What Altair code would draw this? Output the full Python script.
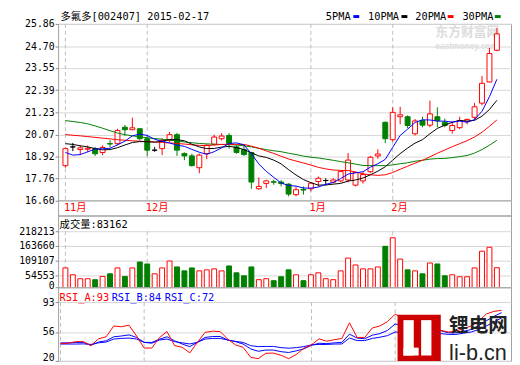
import altair as alt
import pandas as pd

# ---------------- data ----------------
title_text = "多氟多[002407] 2015-02-17"
month_start = [0, 11, 33, 44]
month_label = ["11月", "12月", "1月", "2月"]

open_p = [18.44, 19.42, 19.28, 19.30, 19.33, 19.13, 19.60, 19.59, 20.45, 20.32,
          20.37, 19.85, 19.25, 19.33, 19.76, 20.06, 19.08, 18.95, 18.33, 19.07,
          19.56, 19.85, 20.02, 19.42, 19.28, 19.13, 17.23, 17.51, 17.60, 17.58,
          17.47, 16.92, 17.20, 17.23, 17.61, 17.66, 17.57, 17.64, 17.69, 17.42,
          17.64, 18.12, 18.95, 20.71, 19.80, 21.00, 21.00, 20.11, 20.80, 20.56,
          21.00, 20.71, 20.28, 20.43, 20.76, 20.97, 21.71, 22.82, 24.48]
high_p = [19.40, 19.63, 19.51, 19.50, 19.42, 19.50, 19.77, 20.37, 20.57, 20.95,
          20.40, 20.02, 19.42, 19.88, 20.20, 20.16, 19.13, 19.07, 19.07, 19.55,
          20.06, 20.14, 20.14, 19.50, 19.50, 19.16, 17.82, 17.70, 17.70, 17.68,
          17.52, 17.35, 17.35, 17.57, 17.87, 17.78, 17.78, 18.16, 19.10, 18.12,
          18.10, 18.95, 19.30, 20.75, 21.49, 21.52, 21.07, 20.88, 21.00, 21.84,
          21.49, 20.90, 20.75, 21.00, 20.90, 21.72, 23.13, 24.60, 25.64]
low_p = [18.33, 19.20, 18.99, 19.15, 18.95, 18.99, 19.40, 19.50, 20.00, 20.30,
         19.76, 18.95, 19.16, 18.99, 19.68, 18.95, 18.73, 18.39, 18.04, 18.78,
         19.50, 19.76, 19.33, 19.06, 18.95, 17.23, 17.18, 17.27, 17.44, 17.35,
         16.83, 16.83, 16.92, 17.09, 17.35, 17.40, 17.52, 17.57, 17.57, 17.35,
         17.50, 18.05, 18.80, 19.62, 19.70, 20.60, 20.40, 20.02, 20.45, 20.45,
         20.45, 20.45, 20.12, 20.35, 20.60, 20.85, 21.60, 22.80, 24.43]
close_p = [19.33, 19.42, 19.37, 19.35, 19.06, 19.39, 19.57, 20.28, 20.32, 20.42,
           19.85, 19.25, 19.25, 19.76, 20.06, 19.25, 18.95, 18.44, 18.99, 19.51,
           19.94, 19.99, 19.59, 19.13, 19.02, 17.58, 17.35, 17.64, 17.57, 17.50,
           16.95, 17.18, 17.16, 17.52, 17.78, 17.66, 17.69, 18.13, 18.73, 18.08,
           17.97, 18.88, 19.05, 19.85, 21.23, 21.10, 20.54, 20.78, 20.56, 21.15,
           20.80, 20.55, 20.54, 20.80, 20.86, 21.52, 22.75, 24.31, 25.34]

ma5 = [19.13, 18.99, 19.02, 19.16, 19.31, 19.32, 19.35, 19.53, 19.72, 20.00,
       20.09, 20.02, 19.82, 19.71, 19.63, 19.51, 19.45, 19.29, 19.14, 19.03,
       19.17, 19.37, 19.60, 19.63, 19.53, 19.06, 18.53, 18.14, 17.83, 17.53,
       17.40, 17.37, 17.27, 17.26, 17.32, 17.46, 17.56, 17.76, 18.00, 18.06,
       18.12, 18.36, 18.54, 18.77, 19.40, 20.02, 20.35, 20.70, 20.84, 20.83,
       20.77, 20.77, 20.72, 20.77, 20.71, 20.85, 21.29, 22.05, 22.96]
ma10 = [19.59, 19.55, 19.48, 19.42, 19.33, 19.27, 19.28, 19.38, 19.52, 19.65,
        19.70, 19.69, 19.67, 19.71, 19.81, 19.80, 19.74, 19.56, 19.42, 19.33,
        19.34, 19.41, 19.45, 19.39, 19.28, 19.11, 18.95, 18.87, 18.73, 18.53,
        18.23, 17.95, 17.71, 17.55, 17.42, 17.43, 17.47, 17.51, 17.63, 17.69,
        17.79, 17.96, 18.15, 18.38, 18.73, 19.07, 19.36, 19.62, 19.80, 20.11,
        20.39, 20.56, 20.71, 20.81, 20.77, 20.81, 21.03, 21.38, 21.86]
ma20 = [20.07, 20.03, 20.00, 19.96, 19.92, 19.88, 19.84, 19.80, 19.77, 19.74,
        19.72, 19.70, 19.68, 19.66, 19.63, 19.60, 19.57, 19.53, 19.50, 19.49,
        19.52, 19.55, 19.56, 19.55, 19.55, 19.46, 19.35, 19.21, 19.08, 18.93,
        18.79, 18.68, 18.58, 18.47, 18.35, 18.27, 18.21, 18.19, 18.18, 18.11,
        18.01, 17.96, 17.93, 17.96, 18.08, 18.25, 18.41, 18.57, 18.72, 18.90,
        19.09, 19.26, 19.43, 19.59, 19.75, 19.94, 20.19, 20.50, 20.83]
ma30 = [20.80, 20.75, 20.70, 20.63, 20.52, 20.40, 20.27, 20.15, 20.06, 20.00,
        19.95, 19.90, 19.86, 19.82, 19.78, 19.73, 19.68, 19.64, 19.60, 19.58,
        19.56, 19.55, 19.54, 19.52, 19.48, 19.42, 19.35, 19.28, 19.22, 19.17,
        19.09, 19.02, 18.94, 18.88, 18.84, 18.78, 18.72, 18.65, 18.59, 18.52,
        18.45, 18.44, 18.44, 18.44, 18.48, 18.54, 18.59, 18.67, 18.72, 18.78,
        18.81, 18.82, 18.86, 18.91, 18.97, 19.10, 19.28, 19.51, 19.77]

volume = [82400, 57000, 42400, 42400, 38800, 50900, 60600, 82400, 50900, 82400,
          104300, 97000, 60600, 82400, 107900, 86100, 71500, 82400, 71500, 75200,
          78800, 71500, 89700, 64300, 53300, 86100, 38800, 42400, 35200, 49700,
          75200, 57000, 35200, 57000, 64300, 42400, 38800, 71500, 118800, 93300,
          78800, 78800, 86100, 162400, 194000, 115200, 75200, 71500, 60600, 100600,
          97000, 53300, 57000, 49700, 49700, 82400, 144300, 158800, 83162]

rsi_a = [41.5, 42, 44, 44, 39, 47.5, 50, 63.5, 62.5, 64.5,
         51, 36, 36, 49, 56.5, 39, 37, 30, 43, 55.5,
         57, 56.5, 47, 40, 37, 24.5, 22.8, 29.5, 29.7, 27,
         22.8, 28, 35.8, 40, 47.5, 44.5, 46.4, 48, 67.4, 49.2,
         49.2, 61, 63.5, 69, 78, 74, 61, 64, 59, 66,
         58, 56, 57, 60.5, 63.4, 69.5, 78.4, 81.6, 83]
rsi_b = [42.5, 42.5, 43, 43, 39.5, 43.5, 45, 50, 51, 52.4,
         49.2, 43.1, 43, 47, 50, 45, 41, 37.8, 43.1, 49.2,
         50.4, 50.4, 46, 44, 41, 35, 32, 33.5, 33.5, 31.5,
         30.5, 32.5, 35, 39.5, 42, 41.5, 42.5, 43.1, 53.3, 48.4,
         47.6, 52, 54, 58, 66, 64, 58, 60, 57, 62,
         57.5, 55, 55, 57, 59, 64, 70, 75.5, 80]
rsi_c = [41, 41, 41, 41.2, 40.5, 42.5, 43.5, 47.2, 48, 48.4,
         47.2, 43.1, 42, 46, 47.2, 44, 42.5, 41.1, 43.1, 47.2,
         48, 48, 46, 44.3, 43, 39, 37.8, 38, 38, 36.5,
         35.8, 36.5, 37.8, 40, 40.5, 40.5, 41, 41.1, 48.5, 45.3,
         45.3, 48, 49.5, 51.5, 56, 55.5, 53, 54, 53, 56,
         54, 53, 53, 54.5, 56, 59, 63.5, 68.5, 73.5]

price_ticks = [16.60, 17.76, 18.92, 20.07, 21.23, 22.39, 23.55, 24.70, 25.86]
vol_ticks = [54553, 109107, 163660, 218213]
rsi_ticks = [20, 56, 93]
rsi_names = ["RSI_A", "RSI_B", "RSI_C"]
rsi_last = [93, 84, 72]
vol_last = 83162
legend_names = ["5PMA", "10PMA", "20PMA", "30PMA"]

# ---------------- styling ----------------
FONT = "DejaVu Sans Mono, Noto Sans CJK SC"
RED, GREEN, BLUE, BLACK = "#FF0000", "#008000", "#0000FF", "#000000"
GRID, FRAME, DASH = "#D6D6D6", "#A0A0A0", "#BDBDBD"
W, H_C, H_V, H_R = 461, 195, 73, 75

n = len(close_p)
idx = list(range(n))
kind = ["up" if c > o else ("down" if c < o else "flat") for o, c in zip(open_p, close_p)]
vkind = ["down" if c < o else "up" for o, c in zip(open_p, close_p)]

df = pd.DataFrame({
    "i": idx, "o": open_p, "h": high_p, "l": low_p, "c": close_p, "k": kind,
    "vol": volume, "vk": vkind, "ma5": ma5, "ma10": ma10, "ma20": ma20, "ma30": ma30,
    "ra": rsi_a, "rb": rsi_b, "rc": rsi_c,
})

XS = alt.Scale(domain=[-0.32, 59.24], nice=False, zero=False)
X = alt.X("i:Q", scale=XS, axis=None)
K_STROKE = alt.Scale(domain=["up", "down", "flat"], range=[RED, GREEN, BLACK])
K_FILL = alt.Scale(domain=["up", "down", "flat"], range=["#FFFFFF", GREEN, BLACK])


def yaxis(values, **kw):
    return alt.Axis(values=values, title=None, grid=True, gridColor=GRID, gridWidth=1,
                    domain=False, ticks=True, tickSize=3, tickColor="#888888",
                    labelFont=FONT, labelFontSize=10, labelColor=BLACK, labelPadding=1,
                    labelOverlap=False, **kw)


def text_layer(txt, x, y, color=BLACK, size=10.5, font=FONT, weight="normal", align="left",
               baseline="middle"):
    return alt.Chart(pd.DataFrame({"t": [txt]})).mark_text(
        align=align, baseline=baseline, font=font, fontSize=size, fontWeight=weight, color=color
    ).encode(x=alt.value(x), y=alt.value(y), text="t:N")


def rect_layer(x, x2, y, y2, color):
    return alt.Chart(pd.DataFrame({"a": [0]})).mark_rect(color=color).encode(
        x=alt.value(x), x2=alt.value(x2), y=alt.value(y), y2=alt.value(y2))


# ---------------- candle panel ----------------
C_TOP, C_BOT = 25.86, 16.60
C_LO = C_BOT - 15 * (C_TOP - C_BOT) / 180
YC = alt.Scale(domain=[C_LO, C_TOP], nice=False, zero=False)
AXC = yaxis(price_ticks, format=".2f", labelFlush=False)


def yc(f):
    return alt.Y(f, scale=YC, axis=AXC)


base = alt.Chart(df)
c_layers = [
    text_layer("东方财富网", 384, 8.5, color="#DCDCDC", size=13, font="Noto Sans CJK SC", weight="bold"),
    text_layer("eastmoney.com", 384, 22.5, color="#DCDCDC", size=8.5, font="Liberation Sans", weight="bold"),
    alt.Chart(pd.DataFrame({"i": month_start, "top": [C_TOP] * 4, "bot": [C_BOT] * 4}))
    .mark_rule(color=DASH, strokeDash=[4, 3]).encode(x=X, y=yc("top:Q"), y2="bot:Q"),
    alt.Chart(pd.DataFrame({"v": [C_BOT]})).mark_rule(color=FRAME).encode(y=yc("v:Q")),
    base.mark_rule(strokeWidth=1).encode(
        x=X, y=yc("l:Q"), y2="h:Q", color=alt.Color("k:N", scale=K_STROKE, legend=None)),
    base.mark_bar(size=5, strokeWidth=1).encode(
        x=X, y=yc("o:Q"), y2="c:Q",
        fill=alt.Fill("k:N", scale=K_FILL, legend=None),
        stroke=alt.Stroke("k:N", scale=K_STROKE, legend=None)),
]
for col, colr in [("ma30", GREEN), ("ma20", RED), ("ma10", BLACK), ("ma5", BLUE)]:
    c_layers.append(base.mark_line(color=colr, strokeWidth=1).encode(x=X, y=yc(f"{col}:Q")))

c_layers.append(text_layer(title_text, 2.5, -6.7))
leg_colors = [BLUE, BLACK, RED, GREEN]
leg_tx = [272.5, 315.5, 363.5, 411.5]
leg_dx = [300.5, 349.5, 396.5, 444.5]
for name, colr, tx, dx in zip(legend_names, leg_colors, leg_tx, leg_dx):
    c_layers.append(text_layer(name, tx, -6.7))
    c_layers.append(rect_layer(dx, dx + 6, -9, -6, colr))
c_layers.append(
    alt.Chart(pd.DataFrame({"i": month_start, "t": month_label})).mark_text(
        align="left", baseline="middle", dx=-1.5, font=FONT, fontSize=10.5, color=RED
    ).encode(x=X, y=alt.value(187.5), text="t:N")
)
candle = alt.layer(*c_layers).properties(width=W, height=H_C)

# ---------------- volume panel ----------------
V_STEP = vol_ticks[-1] / 4 / 15
V_HI = vol_ticks[-1] + 16 * V_STEP
V_LO = vol_ticks[-1] - 57 * V_STEP
YV = alt.Scale(domain=[V_LO, V_HI], nice=False, zero=False)
AXV = yaxis([V_LO] + vol_ticks, labelExpr="datum.value < 20000 ? '0' : format(datum.value, 'd')",
            labelFlush=True, labelFlushOffset=3)
v_layers = [
    alt.Chart(pd.DataFrame({"i": month_start, "top": [vol_ticks[-1]] * 4, "bot": [V_LO] * 4}))
    .mark_rule(color=DASH, strokeDash=[4, 3])
    .encode(x=X, y=alt.Y("top:Q", scale=YV, axis=AXV), y2="bot:Q"),
    base.mark_bar(size=5, strokeWidth=1, clip=True).encode(
        x=X, y=alt.Y("vol:Q", scale=YV, axis=AXV), y2=alt.datum(0),
        fill=alt.Fill("vk:N", scale=K_FILL, legend=None),
        stroke=alt.Stroke("vk:N", scale=K_STROKE, legend=None)),
    text_layer("成交量:" + str(vol_last), 1.5, 10),
]
vol = alt.layer(*v_layers).properties(width=W, height=H_V)

# ---------------- RSI panel ----------------
R_LO = 20
R_HI = 93 + 15.3 * 73 / 59.7
YR = alt.Scale(domain=[R_LO, R_HI], nice=False, zero=False)
AXR = yaxis(rsi_ticks, format="d", labelFlush=True, labelFlushOffset=2)
r_layers = [
    alt.Chart(pd.DataFrame({"i": month_start, "top": [93] * 4, "bot": [20] * 4}))
    .mark_rule(color=DASH, strokeDash=[4, 3])
    .encode(x=X, y=alt.Y("top:Q", scale=YR, axis=AXR), y2="bot:Q"),
]
for col, colr in [("rc", BLUE), ("rb", BLUE), ("ra", RED)]:
    r_layers.append(base.mark_line(color=colr, strokeWidth=1).encode(
        x=X, y=alt.Y(f"{col}:Q", scale=YR, axis=AXR)))
for nm, val, colr, tx in zip(rsi_names, rsi_last, [RED, BLUE, BLUE], [1.5, 54.5, 108.5]):
    r_layers.append(text_layer(f"{nm}:{val}", tx, 11, color=colr))
# li-b.cn logo
r_layers += [
    rect_layer(345.5, 389.5, 28, 75, "#CC0000"),
    rect_layer(351.5, 362, 33.5, 69.5, "#FFFFFF"),
    rect_layer(351.5, 367, 61.5, 69.5, "#FFFFFF"),
    rect_layer(369.5, 380, 33.5, 69.5, "#FFFFFF"),
    text_layer("锂电网", 398, 39.5, color="#222222", size=20, font="Noto Sans CJK SC", weight="bold"),
    text_layer("li-b.cn", 398, 74, color="#222222", size=22, font="Liberation Sans",
               baseline="alphabetic"),
]
rsi = alt.layer(*r_layers).properties(width=W, height=H_R)

chart = alt.vconcat(candle, vol, rsi, spacing=0, bounds="flush").properties(
    padding={"left": 10, "top": 0, "right": 0, "bottom": 0}, background="#FFFFFF"
).configure_view(stroke=FRAME, strokeWidth=1)

chart.save("out.html", embed_options={"renderer": "svg", "actions": False})
